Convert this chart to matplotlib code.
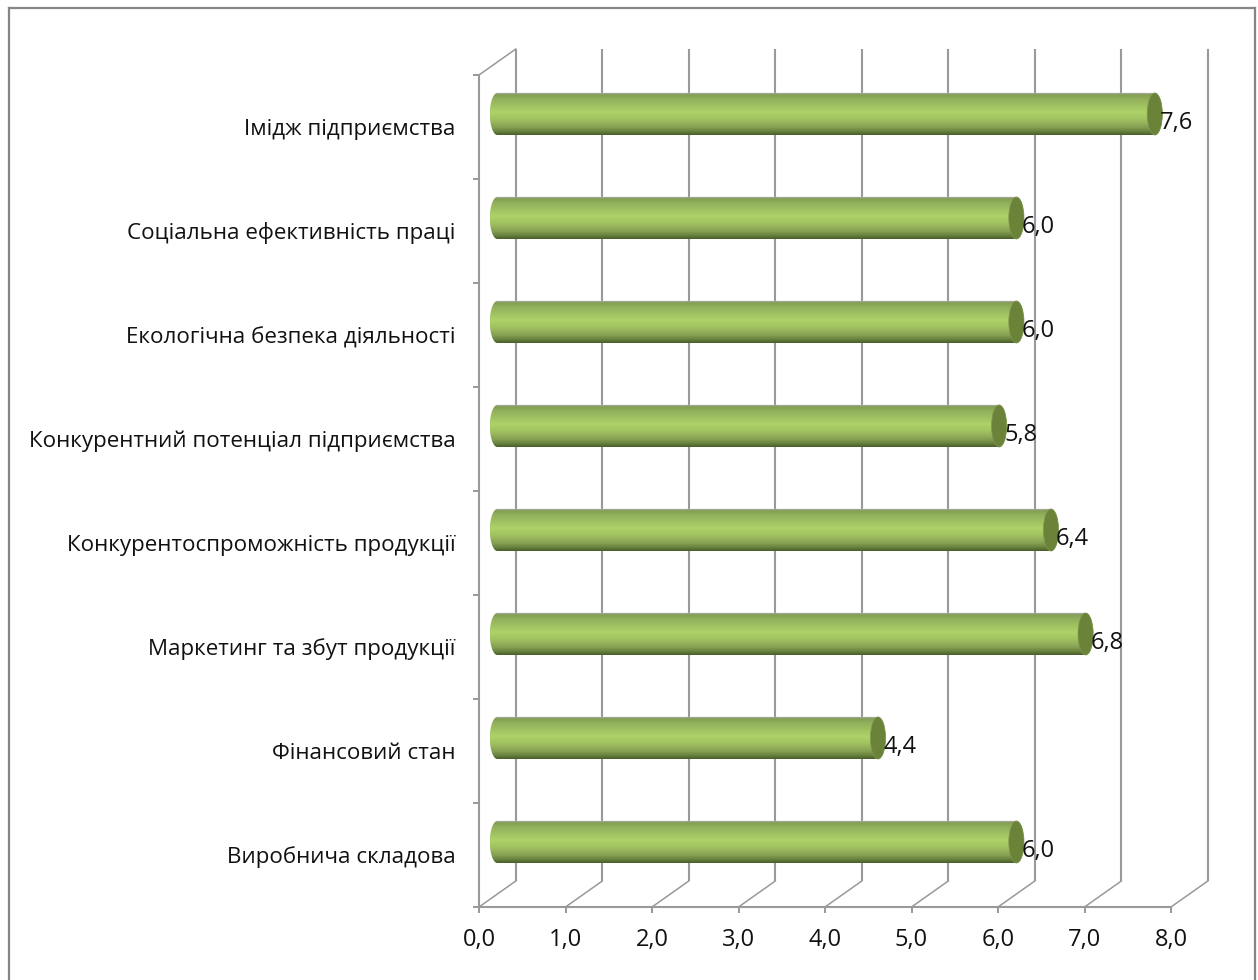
"""
Horizontal cylinder bars on a 3D-style wall: enterprise potential scores
"""

import numpy as np
import matplotlib
matplotlib.use('Agg')
import matplotlib.pyplot as plt

from matplotlib.colors import LinearSegmentedColormap
from matplotlib.path import Path
from matplotlib.patches import Ellipse, PathPatch

#------------------------------------------------------------------------------
# data, bottom bar first

categories = ['Виробнича складова', 'Фінансовий стан', 'Маркетинг та збут продукції',
              'Конкурентоспроможність продукції', 'Конкурентний потенціал підприємства',
              'Екологічна безпека діяльності', 'Соціальна ефективність праці',
              'Імідж підприємства']
values = [6.0, 4.4, 6.8, 6.4, 5.8, 6.0, 6.0, 7.6]
xticks = [0, 1, 2, 3, 4, 5, 6, 7, 8]

#------------------------------------------------------------------------------

W, H = 1258, 980
plt.rcParams['font.family'] = ['Open Sans', 'DejaVu Sans']

fig = plt.figure(figsize=[W/100, H/100], dpi=100)

# axes spans the front plane of the wall
ax = fig.add_axes([479/W, 1 - 907/H, (1171 - 479)/W, (907 - 75)/H])

px = 692/8           # pixels per x unit
py = 832/8           # pixels per category
depth_x = 36.8/px
depth_y = 26/py

line = '#999999'
lw_wall = 1.5
lw_diag = 1.1
fs_cat = 16.1
fs_num = 17

#------------------------------------------------------------------------------
# back wall gridlines and floor diagonals

for v in xticks:
    ax.plot([v + depth_x, v + depth_x], [depth_y, 8 + depth_y], color=line, lw=lw_wall,
            clip_on=False, zorder=1, solid_capstyle='butt')
    ax.plot([v, v + depth_x], [0, depth_y], color=line, lw=lw_diag, clip_on=False, zorder=1)

ax.plot([0, depth_x], [8, 8 + depth_y], color=line, lw=lw_diag, clip_on=False, zorder=1)

#------------------------------------------------------------------------------
# cylinders: gradient body clipped to the bar outline, flat cap at the end

bar_h = 42/py
cap_w = 7.6/px

shade = LinearSegmentedColormap.from_list('cyl', [
    (0.00, '#7f9a50'), (0.15, '#93b15c'), (0.45, '#aed268'), (0.62, '#a2c362'),
    (0.80, '#88a455'), (0.92, '#68803e'), (1.00, '#4a5c2d')])
grad = np.linspace(0, 1, 128).reshape(-1, 1)

t = np.linspace(np.pi/2, 3*np.pi/2, 40)

for i, v in enumerate(values):
    yc = i + 0.5 + depth_y/2
    x0 = depth_x/2
    x1 = x0 + v

    left = np.column_stack([x0 + cap_w*np.cos(t), yc + bar_h/2*np.sin(t)])
    right = np.column_stack([x1 - cap_w*np.cos(t[::-1]), yc + bar_h/2*np.sin(t[::-1])])
    body = Path(np.vstack([left, right, left[:1]]), closed=True)

    im = ax.imshow(grad, cmap=shade, aspect='auto', zorder=3, interpolation='bilinear',
                   extent=[x0 - cap_w, x1 + cap_w, yc - bar_h/2, yc + bar_h/2], origin='upper')
    outline = PathPatch(body, transform=ax.transData, fc='none', ec='none')
    ax.add_patch(outline)
    im.set_clip_path(outline)

    ax.plot([x0, x1], [yc + bar_h/2, yc + bar_h/2], color='#a3a79a', lw=0.9, zorder=4,
            clip_on=False)

    ax.add_patch(Ellipse((x1, yc), 2*cap_w, bar_h, fc='#6b8339', ec='#7d9550', lw=0.5,
                         zorder=5, clip_on=False))

    ax.annotate(f'{v:.1f}'.replace('.', ','), (x1, yc), xytext=(3.6, -6.8),
                textcoords='offset points', ha='left', va='center', fontsize=fs_num,
                color='#111111', zorder=6, annotation_clip=False)

#------------------------------------------------------------------------------
# axes

ax.set_xlim(0, 8)
ax.set_ylim(0, 8)

for s in ['top', 'right']:
    ax.spines[s].set_visible(False)
for s in ['left', 'bottom']:
    ax.spines[s].set_color(line)
    ax.spines[s].set_linewidth(lw_wall)
ax.patch.set_visible(False)

ax.set_xticks(xticks)
ax.set_xticklabels([f'{v:.1f}'.replace('.', ',') for v in xticks], fontsize=fs_num,
                   color='#111111')
ax.tick_params(axis='x', length=4, width=1.4, color=line, pad=11)

ax.set_yticks(range(9))
ax.set_yticklabels([])
ax.tick_params(axis='y', which='major', length=4.5, width=1.4, color=line)
ax.set_yticks(np.arange(8) + 0.5, labels=categories, minor=True, fontsize=fs_cat,
              color='#111111')
ax.tick_params(axis='y', which='minor', length=0, pad=17)

#------------------------------------------------------------------------------
# outer chart border, open at the bottom

border = '#868686'
for xs, ys in [([8.5/W, 8.5/W], [0, 1 - 8.5/H]),
               ([8.5/W, 1254.5/W], [1 - 8.5/H, 1 - 8.5/H]),
               ([1254.5/W, 1254.5/W], [1 - 8.5/H, 0])]:
    fig.add_artist(plt.Line2D(xs, ys, color=border, lw=1.6))

fig.savefig('out.png', dpi=100, facecolor='white')
